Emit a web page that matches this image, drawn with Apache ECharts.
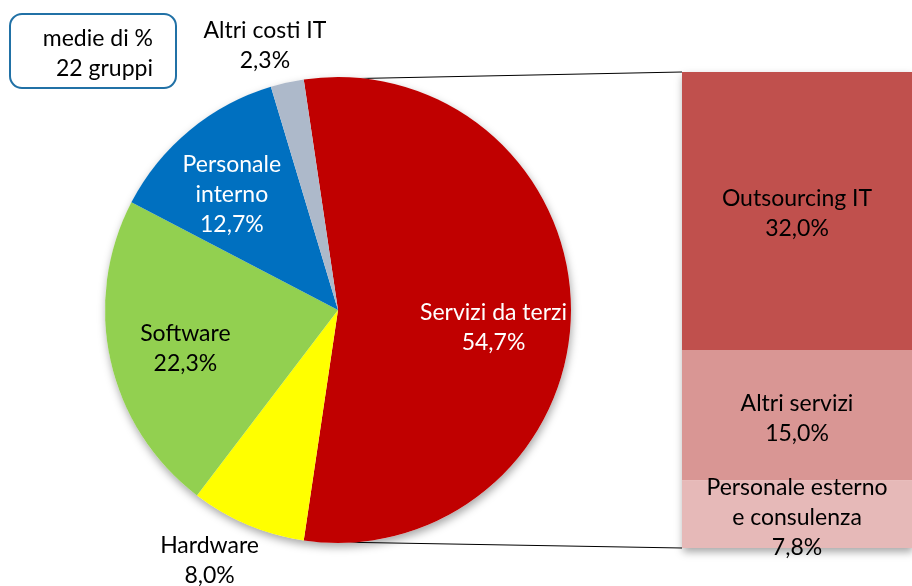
<!DOCTYPE html>
<html>
<head>
<meta charset="utf-8">
<script src="https://cdn.jsdelivr.net/npm/echarts@6/dist/echarts.min.js"></script>
<style>
  html, body { margin: 0; padding: 0; background: #fff; }
  #chart { width: 912px; height: 586px; }
</style>
</head>
<body>
<div id="chart"></div>
<script>
// main pie
const pieNames = ['Servizi da terzi', 'Hardware', 'Software', 'Personale\ninterno', 'Altri costi IT'];
const pieValues = [54.7, 8.0, 22.3, 12.7, 2.3];
const pieColors = ['#C00000', '#FFFF00', '#92D050', '#0070C0', '#ADB9CA'];
const pieTextColors = ['#fff', '#000', '#000', '#fff', '#000'];

// breakdown of "Servizi da terzi" (bottom to top)
const barNames = ['Personale esterno\ne consulenza', 'Altri servizi', 'Outsourcing IT'];
const barValues = [7.8, 15.0, 32.0];
const barColors = ['#E6B9B8', '#D99694', '#C0504D'];

// layout
const CX = 338, CY = 310, R = 233;
const BAR_LEFT = 682, BAR_TOP = 72, BAR_BOTTOM = 548, BAR_WIDTH = 236;
// label nudges away from the default inside position
const labelShift = {
    'Servizi da terzi': [36, 18],
    'Hardware': [-82, 140],
    'Software': [-36, 13],
    'Personale\ninterno': [-30, -23],
    'Altri costi IT': [-47, -148]
};

const FONT = 'Lato, "Noto Sans", sans-serif';
const FS = 23;
const fmt = v => v.toFixed(1).replace('.', ',') + '%';

const barTotal = barValues.reduce((a, b) => a + b, 0);
const chart = echarts.init(document.getElementById('chart'));

const shadow = {
    shadowBlur: 8,
    shadowOffsetX: 1,
    shadowOffsetY: 4,
    shadowColor: 'rgba(0,0,0,0.35)'
};

const option = {
    animation: false,
    grid: {
        left: BAR_LEFT,
        top: BAR_TOP,
        width: BAR_WIDTH,
        height: BAR_BOTTOM - BAR_TOP
    },
    xAxis: { type: 'category', data: ['s'], show: false },
    yAxis: { type: 'value', min: 0, max: barTotal, show: false },
    series: [
        {
            // shadow disc behind the pie
            type: 'pie',
            silent: true,
            center: [CX, CY],
            radius: R,
            z: 1,
            label: { show: false },
            labelLine: { show: false },
            itemStyle: Object.assign({ color: '#fff' }, shadow),
            data: [1]
        },
        {
            type: 'pie',
            center: [CX, CY],
            radius: R,
            z: 2,
            clockwise: true,
            startAngle: pieValues[0] * 3.6 / 2,
            data: pieNames.map((n, i) => ({
                name: n,
                value: pieValues[i],
                itemStyle: { color: pieColors[i] },
                label: { color: pieTextColors[i] }
            })),
            label: {
                position: 'inside',
                fontFamily: FONT,
                fontSize: FS,
                lineHeight: 30,
                formatter: p => p.name + '\n' + fmt(p.value)
            },
            labelLine: { show: false },
            labelLayout: p => {
                const s = labelShift[pieNames[p.dataIndex]] || [0, 0];
                return { dx: s[0], dy: s[1] };
            }
        },
        {
            // shadow box behind the stacked bar
            type: 'bar',
            silent: true,
            barWidth: '100%',
            barGap: '-100%',
            z: 1,
            itemStyle: Object.assign({ color: '#fff' }, shadow),
            data: [barTotal]
        }
    ].concat(barNames.map((n, i) => ({
        type: 'bar',
        name: n,
        stack: 'terzi',
        barWidth: '100%',
        z: 3,
        itemStyle: { color: barColors[i] },
        label: {
            show: true,
            position: 'inside',
            offset: [0, 3],
            color: '#000',
            fontFamily: FONT,
            fontSize: FS,
            lineHeight: 30,
            formatter: p => n + '\n' + fmt(p.value)
        },
        data: [barValues[i]]
    }))),
    graphic: [
        {
            type: 'line',
            z: 0,
            shape: { x1: CX - 4, y1: CY - R + 2, x2: BAR_LEFT, y2: BAR_TOP },
            style: { stroke: '#000', lineWidth: 1 }
        },
        {
            type: 'line',
            z: 0,
            shape: { x1: CX - 4, y1: CY + R - 1, x2: BAR_LEFT, y2: BAR_BOTTOM },
            style: { stroke: '#000', lineWidth: 1 }
        },
        {
            type: 'rect',
            shape: { x: 10, y: 14, width: 166, height: 74, r: 12 },
            style: { fill: '#fff', stroke: '#2171A6', lineWidth: 2 }
        },
        {
            type: 'text',
            x: 153,
            y: 24,
            style: {
                text: 'medie di %\n22 gruppi',
                align: 'right',
                fontFamily: FONT,
                fontSize: FS,
                lineHeight: 30,
                fill: '#000'
            }
        }
    ]
};

chart.setOption(option);
</script>
</body>
</html>
